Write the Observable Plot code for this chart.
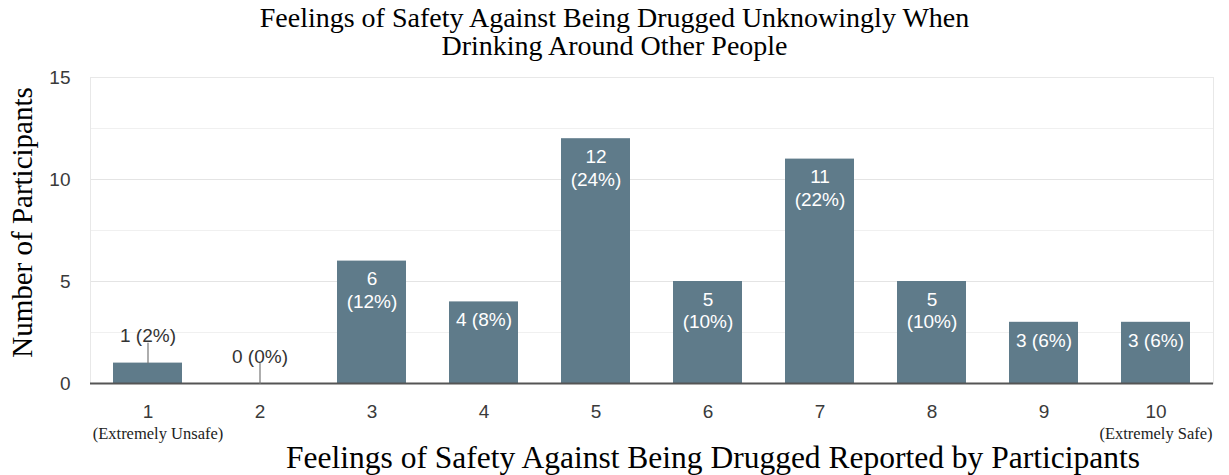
<!DOCTYPE html>
<html>
<head>
<meta charset="utf-8">
<script src="https://cdn.jsdelivr.net/npm/d3@7"></script>
<script src="https://cdn.jsdelivr.net/npm/@observablehq/plot@0.6"></script>
<style>
  html, body { margin: 0; padding: 0; background: #fff; }
  #title {
    width: 1229px; height: 60px; box-sizing: border-box; padding-top: 4px;
    font-family: "Times New Roman", "Liberation Serif", serif; font-size: 28px; line-height: 28px;
    text-align: center; color: #000;
  }
  #chart svg { display: block; overflow: visible; }
</style>
</head>
<body>
<div id="title">Feelings of Safety Against Being Drugged Unknowingly When<br>Drinking Around Other People</div>
<div id="chart"></div>
<script>
const categories = ["1", "2", "3", "4", "5", "6", "7", "8", "9", "10"];
const counts = [1, 0, 6, 4, 12, 5, 11, 5, 3, 3];
const percents = [2, 0, 12, 8, 24, 10, 22, 10, 6, 6];
const yTicks = [0, 5, 10, 15];
const yGridMinor = [2.5, 7.5, 12.5];
const endCategories = ["1", "10"];
const endNotes = ["(Extremely Unsafe)", "(Extremely Safe)"];
const xTitle = "Feelings of Safety Against Being Drugged Reported by Participants";
const yTitle = "Number of Participants";

const data = categories.map((c, i) => ({
  cat: c, n: counts[i], pct: percents[i],
  label: percents[i] >= 10 ? `${counts[i]}\n(${percents[i]}%)` : `${counts[i]} (${percents[i]}%)`
}));
const inside = data.filter(d => d.n > 1);
const outside = data.filter(d => d.n <= 1);
const notes = endCategories.map((c, i) => ({cat: c, note: endNotes[i]}));

const serif = "'Times New Roman', 'Liberation Serif', serif";
const barColor = "#5f7b8a";

const chart = Plot.plot({
  width: 1229,
  height: 415,
  marginTop: 17,
  marginBottom: 92,
  marginLeft: 90,
  marginRight: 16,
  x: {domain: categories, paddingInner: 0.38, paddingOuter: 0.19, label: null},
  y: {domain: [0, 15], label: null},
  style: {fontFamily: "Arial, 'Liberation Sans', sans-serif", background: "#fff"},
  marks: [
    Plot.ruleY(yGridMinor, {stroke: "#f0f0f0"}),
    Plot.ruleY(yTicks, {stroke: "#e4e4e4"}),
    Plot.frame({stroke: "#e8e8e8"}),
    Plot.barY(data, {x: "cat", y: "n", fill: barColor}),
    Plot.ruleY([0], {stroke: "#555", strokeWidth: 2}),
    Plot.axisX({tickSize: 0, tickPadding: 21, fontSize: 19, color: "#3a3a3a"}),
    Plot.axisY({ticks: yTicks, tickSize: 0, tickPadding: 20, fontSize: 19, color: "#3a3a3a"}),
    Plot.text(inside, {x: "cat", y: "n", text: "label", fill: "#fff", fontSize: 19,
      lineAnchor: "top", lineHeight: 1.2, dy: 8}),
    Plot.vector(outside, {x: "cat", y: "n", length: 20, rotate: 0, anchor: "start",
      stroke: "#777", strokeWidth: 1.2,
      shape: {draw(context, l) { context.moveTo(0, 0); context.lineTo(0, -l); }}}),
    Plot.text(outside, {x: "cat", y: "n", text: "label", fill: "#333", fontSize: 19,
      lineAnchor: "bottom", dy: -21}),
    Plot.text(notes.filter(d => d.cat === endCategories[0]), {x: "cat", y: () => 0, text: "note",
      fontFamily: serif, fontSize: 16.5, fill: "#222", dy: 50, dx: 10}),
    Plot.text(notes.filter(d => d.cat === endCategories[1]), {x: "cat", y: () => 0, text: "note",
      fontFamily: serif, fontSize: 16.5, fill: "#222", dy: 50}),
    Plot.text([xTitle], {text: d => d, frameAnchor: "bottom", textAnchor: "middle", lineAnchor: "middle",
      dy: 74, dx: 61, fontFamily: serif, fontSize: 31.5, fill: "#000"}),
    Plot.text([yTitle], {text: d => d, frameAnchor: "left", textAnchor: "middle", lineAnchor: "middle",
      dx: -68, dy: -8, rotate: -90, fontFamily: serif, fontSize: 29, fill: "#000"})
  ]
});
document.getElementById("chart").appendChild(chart);
</script>
</body>
</html>
